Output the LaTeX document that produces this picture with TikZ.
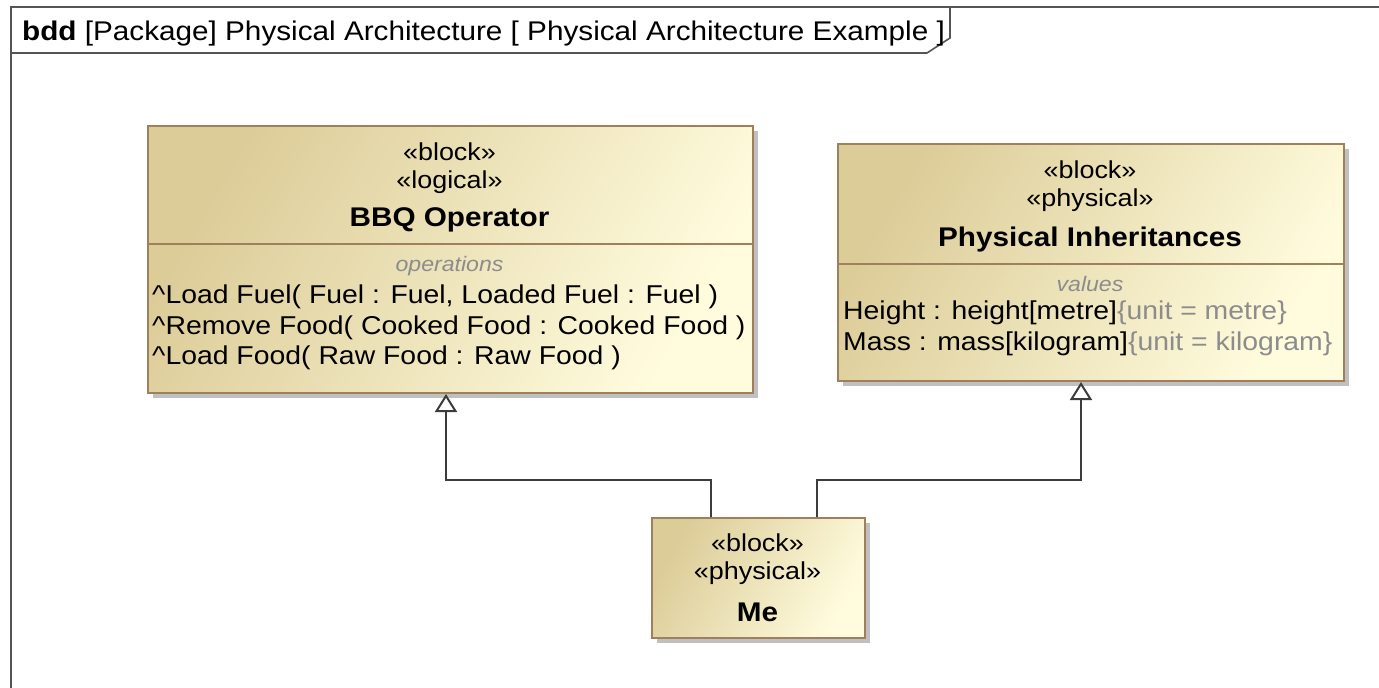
\documentclass[tikz,border=0pt]{standalone}
\usepackage{fontspec}
\setmainfont{Liberation Sans}[FakeStretch=1.1]
\usetikzlibrary{arrows.meta,shadows}
\definecolor{tanL}{RGB}{220,204,152}
\definecolor{creamR}{RGB}{255,252,222}
\definecolor{bordC}{RGB}{160,128,92}
\definecolor{frameC}{RGB}{85,85,85}
\definecolor{lineC}{RGB}{60,60,60}
\definecolor{grayT}{RGB}{140,140,140}
\begin{document}
\begin{tikzpicture}[x=1pt,y=-1pt,
  blockbox/.style={draw=bordC,line width=2pt,rectangle,inner sep=0pt,anchor=north west,
    top color=tanL,bottom color=creamR,shading angle=60,
    drop shadow={shadow xshift=5pt,shadow yshift=-5pt,fill=black!35,opacity=0.7}},
  divider/.style={draw=bordC,line width=2pt},
  stereo/.style={inner sep=0pt,font=\fontsize{24.5}{28}\selectfont},
  bname/.style={inner sep=0pt,font=\fontsize{27}{30}\selectfont\bfseries},
  comp/.style={inner sep=0pt,text=grayT,font=\fontsize{21}{26}\selectfont\itshape},
  oper/.style={inner sep=0pt,anchor=west,font=\fontsize{25.8}{30}\selectfont},
  gen/.style={draw=lineC,line width=2pt,-{Triangle[open,length=18pt,width=22pt,line width=2pt,fill=white]}}
]
\useasboundingbox (0,0) rectangle (1379,688);
\fill[white] (0,0) rectangle (1379,688);
% frame
\draw[frameC,line width=2pt] (11,720) -- (11,7) -- (1400,7);
\draw[frameC,line width=1.6pt] (11,53) -- (927,53) -- (950,38) -- (950,7);
\node[inner sep=0pt,anchor=base west,font=\fontsize{27}{30}\selectfont] (title) at (22,40)
  {\textbf{bdd} [Package] Physical Architecture [ Physical Architecture Example ]};

% BBQ Operator
\node[blockbox,minimum width=605pt,minimum height=267pt] (bbq) at (147,125) {};
\draw[divider] (147,244) -- (752,244);
\node[stereo] (bbqs1) at (449.5,152) {«block»};
\node[stereo] (bbqs2) at (449.5,182) {«logical»};
\node[bname] (bbqn) at (449.5,220) {BBQ Operator};
\node[comp] (bbqc) at (449.5,266) {operations};
\node[oper] (op1) at (152,297) {\textasciicircum Load Fuel( Fuel : Fuel, Loaded Fuel : Fuel )};
\node[oper] (op2) at (152,328) {\textasciicircum Remove Food( Cooked Food : Cooked Food )};
\node[oper] (op3) at (152,358) {\textasciicircum Load Food( Raw Food : Raw Food )};

% Physical Inheritances
\node[blockbox,minimum width=506pt,minimum height=237pt] (phys) at (837,143) {};
\draw[divider] (837,264) -- (1343,264);
\node[stereo] (phs1) at (1090,170) {«block»};
\node[stereo] (phs2) at (1090,200) {«physical»};
\node[bname] (phn) at (1090,240) {Physical Inheritances};
\node[comp] (phc) at (1090,284) {values};
\node[oper] (v1) at (843,313) {Height : height[metre]\textcolor{grayT}{\{unit = metre\}}};
\node[oper] (v2) at (843,344) {Mass : mass[kilogram]\textcolor{grayT}{\{unit = kilogram\}}};

% Me
\node[blockbox,minimum width=213pt,minimum height=120pt] (me) at (651,517) {};
\node[stereo] (mes1) at (757.5,543) {«block»};
\node[stereo] (mes2) at (757.5,573) {«physical»};
\node[bname] (men) at (757.5,612) {Me};

% generalizations
\draw[gen] ([xshift=-47.5pt]me.north) -- ++(0,-37) -| ([xshift=-4.5pt]bbq.south);
\draw[gen] ([xshift=58.5pt]me.north) -- ++(0,-37) -| ([xshift=-10pt]phys.south);
\end{tikzpicture}
\end{document}
